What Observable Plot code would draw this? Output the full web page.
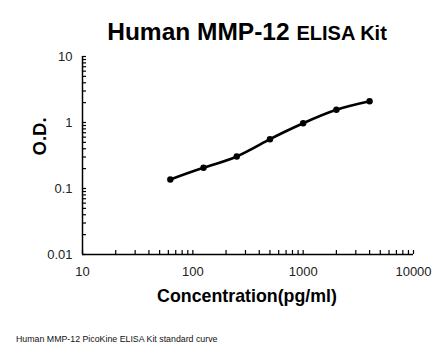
<!DOCTYPE html>
<html>
<head>
<meta charset="utf-8">
<script src="https://cdn.jsdelivr.net/npm/d3@7"></script>
<script src="https://cdn.jsdelivr.net/npm/@observablehq/plot@0.6"></script>
<style>
  body { margin: 0; background: #fff; }
  #wrap { position: relative; width: 446px; height: 356px; font-family: "Liberation Sans", Arial, sans-serif; }
  #title { position: absolute; left: 0; width: 446px; top: 18px; text-align: center; padding-left: 48px; box-sizing: border-box; font-weight: bold; color: #000; white-space: nowrap; }
  #title .big { font-size: 24.5px; }
  #title .small { font-size: 20px; }
  #caption { position: absolute; left: 16px; top: 334px; font-size: 8.8px; color: #111; white-space: nowrap; }
</style>
</head>
<body>
<div id="wrap">
  <div id="title"><span class="big">Human MMP-12 </span><span class="small">ELISA Kit</span></div>
  <div id="chart"></div>
  <div id="caption">Human MMP-12 PicoKine ELISA Kit standard curve</div>
</div>
<script>
const concentration = [62.5, 125, 250, 500, 1000, 2000, 4000];
const od = [0.137, 0.206, 0.305, 0.558, 0.975, 1.56, 2.10];
const xTickLabels = [10, 100, 1000, 10000];
const yTickLabels = [0.01, 0.1, 1, 10];
const xMinor = [20,30,40,50,60,70,80,90,200,300,400,500,600,700,800,900,2000,3000,4000,5000,6000,7000,8000,9000];
const yMinor = [0.02,0.03,0.04,0.05,0.06,0.07,0.08,0.09,0.2,0.3,0.4,0.5,0.6,0.7,0.8,0.9,2,3,4,5,6,7,8,9];
const xLabel = "Concentration(pg/ml)";
const yLabel = "O.D.";

const data = concentration.map((c, i) => ({c, v: od[i]}));

const W = 446, H = 356, mL = 82, mR = 33, mT = 56, mB = 102;
const frameW = W - mL - mR, frameH = H - mT - mB;
const tickLen = 4;
const font = "Liberation Sans, Arial, sans-serif";

const chart = Plot.plot({
  width: W, height: H,
  marginLeft: mL, marginRight: mR, marginTop: mT, marginBottom: mB,
  style: {fontFamily: font, background: "#fff", color: "#000"},
  x: {type: "log", domain: [10, 10000]},
  y: {type: "log", domain: [0.01, 10]},
  marks: [
    Plot.axisX({ticks: xTickLabels, tickSize: 0, tickPadding: 12, tickFormat: d => String(d), fontSize: 13, fill: "#222", label: null}),
    Plot.axisY({ticks: yTickLabels, tickSize: 0, tickPadding: 10, tickFormat: d => String(d), fontSize: 13, fill: "#222", label: null}),
    Plot.tickX([...xTickLabels, ...xMinor], {x: d => d, stroke: "#000", strokeWidth: 1.2, insetTop: frameH - tickLen}),
    Plot.tickY([...yTickLabels, ...yMinor], {y: d => d, stroke: "#000", strokeWidth: 1.2, insetRight: frameW - tickLen}),
    Plot.ruleX([10], {stroke: "#000", strokeWidth: 1.5}),
    Plot.ruleY([0.01], {stroke: "#000", strokeWidth: 1.5}),
    Plot.line(data, {x: "c", y: "v", curve: "natural", stroke: "#000", strokeWidth: 2.6}),
    Plot.dot(data, {x: "c", y: "v", r: 3.2, fill: "#000", stroke: "none"}),
    Plot.text([xLabel], {frameAnchor: "bottom", dy: 47, text: d => d, fontSize: 17.8, fontWeight: "bold", fill: "#000", dx: -1}),
    Plot.text([yLabel], {frameAnchor: "left", dx: -42, rotate: -90, text: d => d, fontSize: 18.5, fontWeight: "bold", fill: "#000"})
  ]
});
document.getElementById("chart").appendChild(chart);
</script>
</body>
</html>
